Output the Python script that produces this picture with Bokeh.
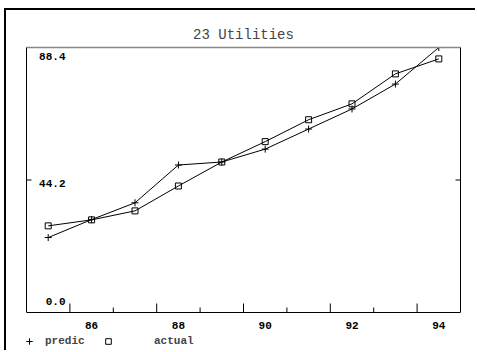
import math
from bokeh.plotting import figure
from bokeh.models import Range1d, FixedTicker, LinearAxis, Legend, LegendItem, Span
from bokeh.core.properties import value
from bokeh.embed import file_html
from bokeh.resources import INLINE

title_text = "23 Utilities"
years = [85, 86, 87, 88, 89, 90, 91, 92, 93, 94]
predic = [25.0, 31.0, 36.6, 49.2, 50.2, 54.5, 61.2, 67.9, 76.2, 88.4]
actual = [28.9, 30.9, 33.9, 42.2, 50.2, 57.0, 64.3, 69.6, 79.6, 84.6]
x_label_ticks = [86, 88, 90, 92, 94]
x_tick_labels = ["86", "88", "90", "92", "94"]
x_major_marks = [85.5, 87.5, 89.5, 91.5, 93.5]
x_minor_marks = [86.5, 88.5, 90.5, 92.5]
y_ticks = [0.0, 44.2, 88.4]
y_labels = ["0.0", "44.2", "88.4"]
y_mid_tick = [44.2]

FONT = "Liberation Mono"
X0, X1 = 84.5, 94.5
Y0, Y1 = 0.0, 88.4
PLOT_H = 265          # pixel height of the value area (Y0..Y1)
BELOW_PX = 40         # room under the value area for tick labels + legend
YB = Y0 - BELOW_PX * (Y1 - Y0) / PLOT_H

p = figure(width=471, height=342, output_backend="svg", toolbar_location=None,
           x_range=Range1d(X0, X1), y_range=Range1d(YB, Y1),
           x_axis_type=None, y_axis_type=None,
           min_border_left=20, min_border_right=17, min_border_top=37, min_border_bottom=0)
p.styles = {"margin-left": "6px", "margin-top": "10px",
            "box-shadow": "-2px -2px 0px 0px black"}
p.outline_line_color = None

p.title.text = title_text
p.title.align = "center"
p.title.text_font = FONT
p.title.text_font_size = "14px"
p.title.text_font_style = "normal"
p.title.standoff = 10

# frame sides: left/right black axes limited to the value area, gray top line
for side in ("left", "right"):
    ax = LinearAxis(ticker=FixedTicker(ticks=[], minor_ticks=[]), bounds=(Y0, Y1),
                    major_tick_in=0, major_tick_out=0, minor_tick_in=0, minor_tick_out=0,
                    axis_line_color="black")
    p.add_layout(ax, side)
top_ax = LinearAxis(ticker=FixedTicker(ticks=[], minor_ticks=[]),
                    major_tick_in=0, major_tick_out=0, minor_tick_in=0, minor_tick_out=0,
                    axis_line_color="#888888", axis_line_width=1.5)
p.add_layout(top_ax, "above")

# x axis line at zero
p.add_layout(Span(location=Y0, dimension="width", line_color="black", line_width=1))

# inward tick marks
p.ray(x=x_major_marks, y=[Y0] * len(x_major_marks), length=9, length_units="screen",
      angle=math.pi / 2, line_color="black", line_width=1)
p.ray(x=x_minor_marks, y=[Y0] * len(x_minor_marks), length=5, length_units="screen",
      angle=math.pi / 2, line_color="black", line_width=1)
p.ray(x=[X0] * len(y_mid_tick), y=y_mid_tick, length=5, length_units="screen",
      angle=0, line_color="black", line_width=1)
p.ray(x=[X1] * len(y_mid_tick), y=y_mid_tick, length=5, length_units="screen",
      angle=math.pi, line_color="black", line_width=1)

# tick labels
p.text(x=x_label_ticks, y=[Y0] * len(x_label_ticks), text=x_tick_labels, y_offset=9,
       text_align="center", text_baseline="top", text_font=value(FONT),
       text_font_style="bold", text_font_size="11px", text_color="black")
p.text(x=[X0] * len(y_ticks), y=y_ticks, text=y_labels, x_offset=39, y_offset=[-11, 3, 9],
       text_align="right", text_baseline="middle", text_font=value(FONT),
       text_font_style="bold", text_font_size="11px", text_color="black")

# series
p.line(years, predic, line_color="black", line_width=1)
r1 = p.scatter(years, predic, marker="cross", size=7, line_color="black")
p.line(years, actual, line_color="black", line_width=1)
r2 = p.scatter(years, actual, marker="square", size=6, fill_color=None, line_color="black")

common = dict(padding=0, margin=0, border_line_color=None, background_fill_alpha=0,
              label_text_font=FONT, label_text_font_style="bold",
              label_text_font_size="11px", label_height=12)
leg1 = Legend(items=[LegendItem(label="predic", renderers=[r1])], location=(-5, 2),
              glyph_width=16, glyph_height=18, label_standoff=8, **common)
leg2 = Legend(items=[LegendItem(label="actual", renderers=[r2])], location=(75, 4),
              glyph_width=14, glyph_height=14, label_standoff=39, **common)
p.add_layout(leg1)
p.add_layout(leg2)

open("out.html", "w").write(file_html(p, INLINE))
